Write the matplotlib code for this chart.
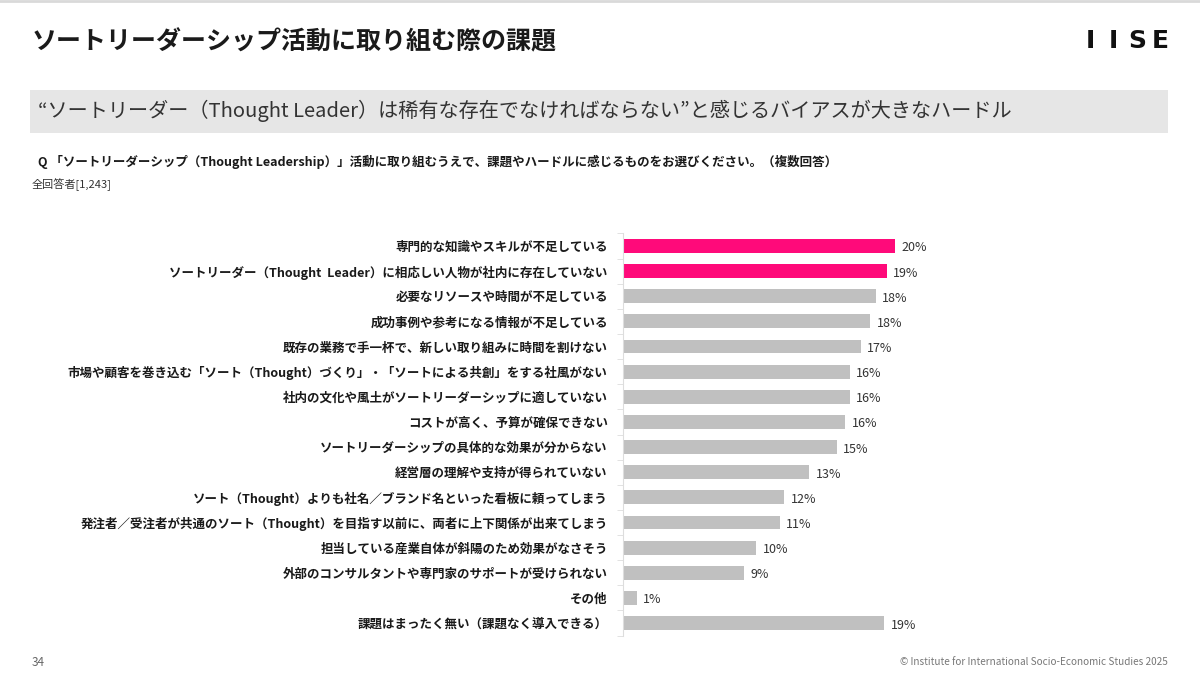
import matplotlib
matplotlib.use("Agg")
import matplotlib.pyplot as plt
import numpy as np

plt.rcParams['font.family'] = ['Noto Sans CJK JP', 'DejaVu Sans']

# Data (percent of all respondents, n=1,243)
categories = [
    "専門的な知識やスキルが不足している",
    "ソートリーダー（Thought  Leader）に相応しい人物が社内に存在していない",
    "必要なリソースや時間が不足している",
    "成功事例や参考になる情報が不足している",
    "既存の業務で手一杯で、新しい取り組みに時間を割けない",
    "市場や顧客を巻き込む「ソート（Thought）づくり」・「ソートによる共創」をする社風がない",
    "社内の文化や風土がソートリーダーシップに適していない",
    "コストが高く、予算が確保できない",
    "ソートリーダーシップの具体的な効果が分からない",
    "経営層の理解や支持が得られていない",
    "ソート（Thought）よりも社名／ブランド名といった看板に頼ってしまう",
    "発注者／受注者が共通のソート（Thought）を目指す以前に、両者に上下関係が出来てしまう",
    "担当している産業自体が斜陽のため効果がなさそう",
    "外部のコンサルタントや専門家のサポートが受けられない",
    "その他",
    "課題はまったく無い（課題なく導入できる）",
]
values = [19.6, 19.0, 18.2, 17.8, 17.1, 16.3, 16.3, 16.0, 15.4, 13.4, 11.6, 11.3, 9.6, 8.7, 1.0, 18.8]
highlight = [True, True] + [False] * 14

PINK = "#ff0a7a"
GRAY = "#c0c0c0"
TEXT = "#1a1a1a"

W, H = 1200, 675
fig = plt.figure(figsize=(12, 6.75), dpi=100)

def fx(px):
    return px / W

def fy(py):
    return 1 - py / H

# thin grey line along the top edge of the slide
fig.add_artist(plt.Line2D([0, 1], [fy(1), fy(1)], color="#d9d9d9", lw=2))

# title and logo
fig.text(fx(32), fy(42), "ソートリーダーシップ活動に取り組む際の課題",
         fontsize=18, fontweight="bold", color=TEXT, va="center", ha="left")
for i, ch in enumerate("IISE"):
    fig.text(fx(1090 + i * 23.5), fy(41), ch, fontsize=18, fontweight="bold",
             color="#111111", va="center", ha="center", family="DejaVu Sans")

# grey banner with the key message
fig.add_artist(plt.Rectangle((fx(30), fy(133)), fx(1168) - fx(30), fy(90) - fy(133),
                             color="#e6e6e6", lw=0, transform=fig.transFigure, zorder=0))
fig.text(fx(38), fy(111),
         "“ソートリーダー（Thought Leader）は稀有な存在でなければならない”と感じるバイアスが大きなハードル",
         fontsize=14.5, color="#333333", va="center", ha="left")

# question and base
fig.text(fx(38), fy(162),
         "Q 「ソートリーダーシップ（Thought Leadership）」活動に取り組むうえで、課題やハードルに感じるものをお選びください。（複数回答）",
         fontsize=9.0, fontweight="bold", color=TEXT, va="center", ha="left")
fig.text(fx(32), fy(185), "全回答者[1,243]", fontsize=8, color="#333333", va="center", ha="left")

# footer
fig.text(fx(32), fy(662), "34", fontsize=8.5, color="#666666", va="center", ha="left")
fig.text(fx(1168), fy(662), "© Institute for International Socio-Economic Studies 2025",
         fontsize=7.2, color="#777777", va="center", ha="right")

# bar chart
n = len(categories)
row = 25.2
top_px = 246 - row / 2
bot_px = 623 + row / 2
xmax = 25
ax = fig.add_axes([fx(623), fy(bot_px), xmax * 13.9 / W, (bot_px - top_px) / H])
y = np.arange(n)
colors = [PINK if h else GRAY for h in highlight]
ax.barh(y, values, height=0.55, color=colors, zorder=2)
for yi, v in zip(y, values):
    ax.text(v + 0.45, yi + 0.08, f"{v:.0f}%", fontsize=9, color="#333333",
            va="center", ha="left")

ax.set_ylim(n - 0.5, -0.5)
ax.set_xlim(0, xmax)
ax.set_yticks(y)
ax.set_yticklabels(categories, fontsize=9, fontweight="bold", color=TEXT)
ax.set_yticks(np.arange(n + 1) - 0.5, minor=True)
ax.tick_params(axis="y", which="major", length=0, pad=11)
ax.tick_params(axis="y", which="minor", length=4, color="#dddddd", direction="out")
ax.set_xticks([])
for s in ["top", "right", "bottom"]:
    ax.spines[s].set_visible(False)
ax.spines["left"].set_color("#dddddd")
ax.spines["left"].set_linewidth(0.8)
ax.patch.set_alpha(0)

fig.savefig("out.png", dpi=100, facecolor="white")
